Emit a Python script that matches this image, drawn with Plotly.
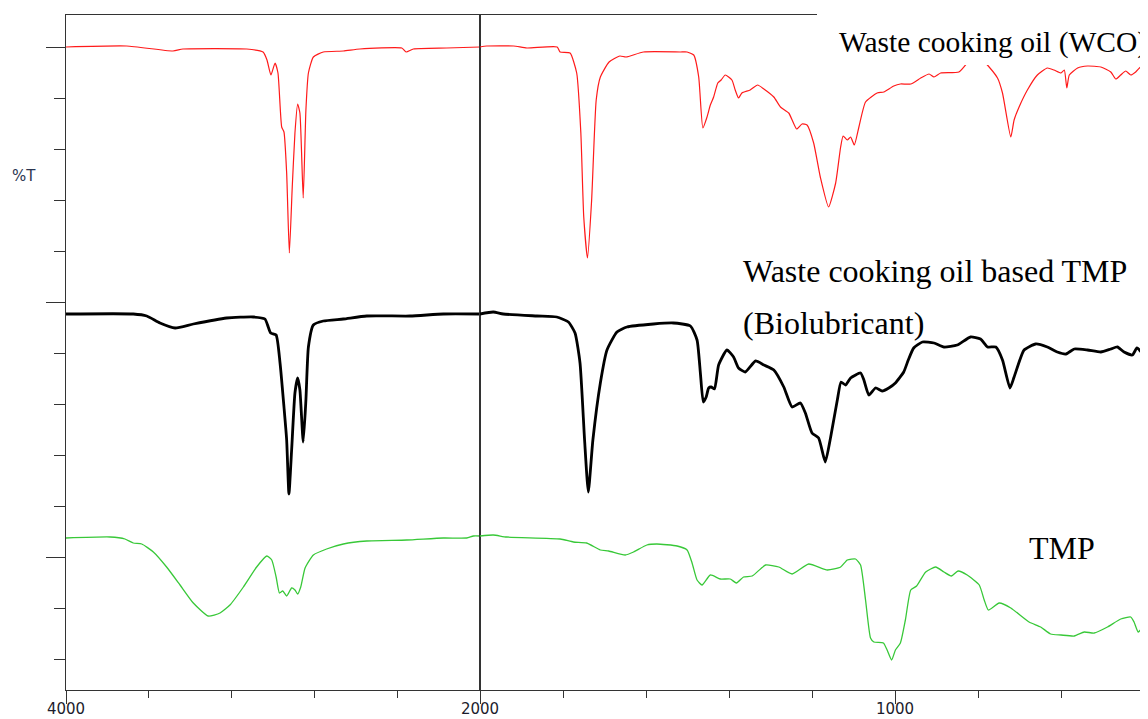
import numpy as np
import plotly.graph_objects as go

# ---------------- data (wavenumber cm-1, transmittance in arbitrary %T units) -------------
WCO_WN = [4000, 3707, 3483, 3435, 3127, 3048, 3029, 3010, 2990, 2976, 2958, 2947, 2934, 2921, 2907,
          2894, 2881, 2870, 2854, 2841, 2829, 2805, 2757, 2660, 2580, 2378, 2357, 2322, 2161, 2000,
          1984, 1919, 1887, 1814, 1807, 1783, 1767, 1757, 1750, 1741, 1731, 1720, 1710, 1689, 1663,
          1648, 1606, 1517, 1501, 1485, 1473, 1463, 1453, 1445, 1437, 1427, 1419, 1409, 1393, 1385,
          1377, 1369, 1349, 1331, 1316, 1292, 1276, 1256, 1237, 1224, 1212, 1196, 1180, 1160, 1143,
          1131, 1125, 1115, 1107, 1098, 1087, 1071, 1043, 1027, 1003, 987, 962, 938, 918, 906,
          890, 846, 818, 801, 786, 753, 741, 721, 713, 701, 681, 657, 633, 617, 600,
          592, 586, 580, 560, 536, 504, 480, 468, 456, 444, 432, 420, 411, 400]
WCO_T = [662, 663, 658, 660, 660, 657, 649, 634, 646, 636, 582, 577, 536, 456, 522,
         576, 605, 596, 511, 599, 636, 652, 657, 658, 660, 661, 657, 660, 661, 662,
         663, 663, 661, 662, 657, 656, 636, 576, 492, 451, 509, 609, 632, 647, 653,
         652, 657, 657, 657, 654, 632, 581, 592, 604, 612, 626, 629, 634, 629, 619,
         611, 616, 619, 624, 620, 612, 602, 596, 580, 585, 584, 566, 532, 502, 526,
         562, 573, 569, 572, 564, 582, 607, 616, 617, 623, 625, 625, 631, 635, 632,
         636, 637, 650, 654, 648, 631, 616, 572, 589, 602, 619, 634, 641, 639, 636,
         639, 621, 634, 641, 643, 642, 637, 630, 634, 638, 634, 637, 641, 644]

BIO_WN = [4000, 3675, 3610, 3546, 3473, 3385, 3224, 3095, 3039, 3023, 3011, 2985, 2966, 2947, 2934,
          2923, 2910, 2894, 2881, 2870, 2854, 2841, 2829, 2805, 2757, 2660, 2547, 2338, 2177, 2000,
          1968, 1944, 1863, 1815, 1787, 1771, 1759, 1748, 1739, 1728, 1710, 1694, 1670, 1646, 1582,
          1534, 1493, 1477, 1469, 1462, 1455, 1449, 1443, 1435, 1425, 1405, 1389, 1377, 1361, 1336,
          1316, 1292, 1268, 1248, 1228, 1216, 1200, 1184, 1168, 1155, 1139, 1130, 1119, 1107, 1083,
          1075, 1063, 1047, 1031, 1015, 999, 979, 968, 955, 934, 906, 882, 850, 818, 794,
          777, 757, 741, 723, 713, 689, 661, 633, 609, 588, 568, 536, 504, 480, 464,
          448, 428, 417, 407, 400]
BIO_T = [395, 395, 393, 386, 381, 385, 391, 392, 390, 382, 376, 374, 346, 302, 269,
         215, 259, 316, 331, 319, 267, 309, 362, 384, 388, 390, 393, 393, 395, 395,
         397, 395, 393, 392, 387, 376, 346, 269, 217, 269, 326, 359, 377, 382, 385,
         386, 383, 369, 336, 307, 312, 321, 322, 320, 344, 359, 352, 341, 337, 348,
         344, 339, 322, 302, 306, 296, 276, 271, 247, 272, 309, 327, 324, 331, 336,
         329, 314, 321, 318, 321, 326, 337, 349, 361, 367, 366, 362, 364, 372, 370,
         362, 362, 349, 321, 332, 359, 365, 362, 357, 355, 360, 359, 357, 360, 362,
         357, 354, 361, 357, 352]

TMP_WN = [4000, 3787, 3715, 3675, 3634, 3578, 3514, 3449, 3385, 3313, 3256, 3208, 3143, 3079, 3030,
          3006, 2985, 2969, 2953, 2934, 2910, 2894, 2881, 2866, 2845, 2805, 2741, 2660, 2547, 2354,
          2177, 2064, 2032, 2000, 1968, 1936, 1807, 1775, 1743, 1710, 1690, 1650, 1630, 1598, 1574,
          1525, 1501, 1489, 1477, 1465, 1445, 1421, 1397, 1382, 1365, 1344, 1312, 1280, 1248, 1208,
          1163, 1131, 1115, 1095, 1083, 1071, 1059, 1051, 1028, 1019, 1008, 999, 987, 975, 962,
          948, 926, 902, 882, 864, 848, 826, 797, 785, 775, 749, 721, 677, 649, 625,
          600, 568, 544, 520, 488, 456, 432, 424, 414, 404, 400]
TMP_T = [171, 172, 170, 166, 165, 157, 142, 124, 106, 93, 96, 104, 122, 142, 153,
         149, 132, 116, 118, 113, 121, 119, 115, 122, 141, 154, 160, 165, 168, 169,
         171, 171, 173, 173, 174, 172, 170, 167, 166, 159, 158, 154, 157, 164, 165,
         163, 159, 146, 129, 124, 134, 130, 130, 126, 132, 133, 144, 142, 135, 145,
         139, 142, 149, 150, 144, 109, 71, 67, 66, 59, 49, 59, 66, 89, 119,
         123, 137, 142, 137, 133, 138, 134, 124, 109, 99, 106, 101, 87, 82, 75,
         74, 73, 77, 76, 82, 90, 92, 87, 77, 81, 82]

X_LEFT_TICKS = [4000, 2000]
X_LEFT_MINOR = [3600, 3200, 2800, 2400]
X_RIGHT_TICKS = [1000]
X_RIGHT_MINOR = [1800, 1600, 1400, 1200, 800, 600, 400]
Y_MAJOR = [152, 407, 662]
Y_MINOR = [50, 101, 203, 254, 305, 356, 458, 509, 560, 611]
Y_RANGE = [19, 694]

LABELS = ["Waste cooking oil (WCO)", "Waste cooking oil based TMP", "(Biolubricant)", "TMP"]

# ---------------- figure -------------
fig = go.Figure()


def add_series(wn, t, color, width):
    wn = np.asarray(wn, dtype=float)
    t = np.asarray(t, dtype=float)
    left = wn >= 2000
    right = wn <= 2000
    common = dict(mode="lines", showlegend=False, hoverinfo="skip",
                  line=dict(color=color, width=width, shape="spline", smoothing=0.5))
    fig.add_trace(go.Scatter(x=wn[left], y=t[left], xaxis="x", yaxis="y", **common))
    fig.add_trace(go.Scatter(x=wn[right], y=t[right], xaxis="x2", yaxis="y2", **common))


add_series(WCO_WN, WCO_T, "#ff1a1a", 1.2)
add_series(BIO_WN, BIO_T, "#000000", 2.8)
add_series(TMP_WN, TMP_T, "#38c838", 1.3)

# page pixel geometry (the page body has an 8 px default margin)
OFF = 8
PAGE_W, PAGE_H = 1148, 719
X0, X1, Y0, Y1 = 66, 1144, 15, 690          # plot frame in page pixels
W, H = PAGE_W - OFF, PAGE_H - OFF
L, T = X0 - OFF, Y0 - OFF
R, B = PAGE_W - X1, PAGE_H - Y1
PW = X1 - X0
PH = Y1 - Y0
D = (480 - X0) / PW

AXC = "#333333"
tickfont = dict(family="DejaVu Sans", size=15, color="#1c1c2c")


def xaxis_cfg(domain, rng, anchor, vals, minor_vals):
    return dict(domain=domain, range=rng, anchor=anchor, tickmode="array", tickvals=vals,
                ticktext=[str(v) for v in vals], ticks="outside", ticklen=13, tickwidth=1.3,
                tickcolor=AXC, tickfont=tickfont, ticklabelstandoff=-8,
                showline=True, linecolor=AXC, linewidth=1.3,
                mirror=True, showgrid=False, zeroline=False, fixedrange=True, automargin=False,
                minor=dict(tickmode="array", tickvals=minor_vals, ticks="outside", ticklen=7,
                           tickwidth=1.3, tickcolor=AXC, showgrid=False))


fig.update_layout(
    width=W, height=H,
    margin=dict(l=L, r=R, t=T, b=B, autoexpand=False),
    paper_bgcolor="white", plot_bgcolor="white",
    xaxis=xaxis_cfg([0, D], [4000, 2000], "y", X_LEFT_TICKS, X_LEFT_MINOR),
    xaxis2=xaxis_cfg([D, 1], [2000, 400], "y2", X_RIGHT_TICKS, X_RIGHT_MINOR),
    yaxis=dict(domain=[0, 1], range=Y_RANGE, anchor="x", tickmode="array", tickvals=Y_MAJOR,
               showticklabels=False, ticks="outside", ticklen=19, tickwidth=1.3, tickcolor=AXC,
               showline=True, linecolor=AXC, linewidth=1.3, mirror=True, showgrid=False,
               zeroline=False, automargin=False,
               minor=dict(tickmode="array", tickvals=Y_MINOR, ticks="outside", ticklen=11,
                          tickwidth=1.3, tickcolor=AXC, showgrid=False)),
    yaxis2=dict(domain=[0, 1], range=Y_RANGE, anchor="x2", showticklabels=False, ticks="",
                showline=True, linecolor=AXC, linewidth=1.3, mirror=True, showgrid=False,
                zeroline=False, automargin=False),
)


def px_x(p):
    return (p - X0) / PW


def px_y(p):
    return (Y1 - p) / PH


# white patch behind the WCO label (covers the frame corner, as in the source figure)
fig.add_shape(type="rect", xref="paper", yref="paper", x0=px_x(817), x1=1.02,
              y0=px_y(65), y1=px_y(-5), fillcolor="white", line=dict(width=0), layer="above")

serif = "Liberation Serif"
fig.add_annotation(text=LABELS[0], xref="paper", yref="paper", x=px_x(837), y=px_y(61),
                   xanchor="left", yanchor="bottom", showarrow=False,
                   font=dict(family=serif, size=29.5, color="#000000"))
fig.add_annotation(text=LABELS[1], xref="paper", yref="paper", x=px_x(741), y=px_y(291),
                   xanchor="left", yanchor="bottom", showarrow=False,
                   font=dict(family=serif, size=32, color="#000000"))
fig.add_annotation(text=LABELS[2], xref="paper", yref="paper", x=px_x(741), y=px_y(343),
                   xanchor="left", yanchor="bottom", showarrow=False,
                   font=dict(family=serif, size=32, color="#000000"))
fig.add_annotation(text=LABELS[3], xref="paper", yref="paper", x=px_x(1027), y=px_y(568),
                   xanchor="left", yanchor="bottom", showarrow=False,
                   font=dict(family=serif, size=32, color="#000000"))
fig.add_annotation(text="%T", xref="paper", yref="paper", x=px_x(24), y=px_y(176),
                   xanchor="center", yanchor="middle", showarrow=False,
                   font=dict(family="DejaVu Sans", size=15, color="#2b3550"))

fig.write_html("out.html")
